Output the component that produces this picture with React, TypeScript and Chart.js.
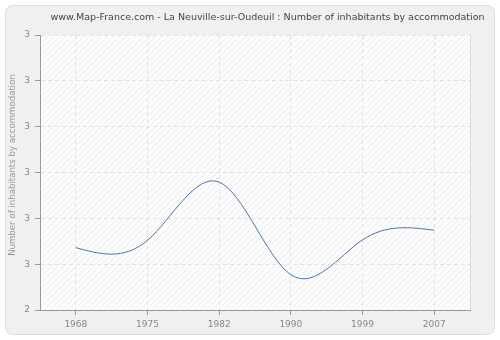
import React, { useEffect, useRef } from "react";
import { Chart, registerables } from "chart.js";

Chart.register(...registerables);

const years = ["1968", "1975", "1982", "1990", "1999", "2007"];
const inhabitantsPerAccommodation = [2.536, 2.552, 2.679, 2.477, 2.553, 2.574];
const yTickValues = [2.4, 2.5, 2.6, 2.7, 2.8, 2.9, 3.0];
const yTickLabels = ["2", "3", "3", "3", "3", "3", "3"];
const chartTitle =
  "www.Map-France.com - La Neuville-sur-Oudeuil : Number of inhabitants by accommodation";
const yAxisTitle = "Number of inhabitants by accommodation";

const FONT = "'DejaVu Sans', Verdana, sans-serif";

// natural cubic spline control points (same as d3 curveNatural)
function controlPoints(x: number[]): [number[], number[]] {
  const n = x.length - 1;
  const a = new Array(n);
  const b = new Array(n);
  const r = new Array(n);
  let m: number;
  a[0] = 0;
  b[0] = 2;
  r[0] = x[0] + 2 * x[1];
  for (let i = 1; i < n - 1; ++i) {
    a[i] = 1;
    b[i] = 4;
    r[i] = 4 * x[i] + 2 * x[i + 1];
  }
  a[n - 1] = 2;
  b[n - 1] = 7;
  r[n - 1] = 8 * x[n - 1] + x[n];
  for (let i = 1; i < n; ++i) {
    m = a[i] / b[i - 1];
    b[i] -= m;
    r[i] -= m * r[i - 1];
  }
  a[n - 1] = r[n - 1] / b[n - 1];
  for (let i = n - 2; i >= 0; --i) a[i] = (r[i] - a[i + 1]) / b[i];
  b[n - 1] = (x[n] + a[n - 1]) / 2;
  for (let i = 0; i < n - 1; ++i) b[i] = 2 * x[i + 1] - a[i + 1];
  return [a, b];
}

const naturalSplinePlugin = {
  id: "naturalSpline",
  beforeDatasetDraw(chart: any, args: any) {
    const meta = args.meta;
    const pts = meta.data as any[];
    const n = pts.length - 1;
    if (n < 2) return;
    const xs = pts.map((p) => p.x);
    const ys = pts.map((p) => p.y);
    const [ax, bx] = controlPoints(xs);
    const [ay, by] = controlPoints(ys);
    pts[0].cp1x = pts[0].x;
    pts[0].cp1y = pts[0].y;
    pts[n].cp2x = pts[n].x;
    pts[n].cp2y = pts[n].y;
    for (let i = 0; i < n; i++) {
      pts[i].cp2x = ax[i];
      pts[i].cp2y = ay[i];
      pts[i + 1].cp1x = bx[i];
      pts[i + 1].cp1y = by[i];
    }
    meta.dataset._pointsUpdated = true;
    meta.dataset._path = undefined;
  },
};

let hatchPattern: CanvasPattern | null = null;
function getHatch(ctx: CanvasRenderingContext2D) {
  if (hatchPattern) return hatchPattern;
  const c = document.createElement("canvas");
  c.width = 6;
  c.height = 6;
  const p = c.getContext("2d")!;
  p.fillStyle = "#fcfcfc";
  p.fillRect(0, 0, 6, 6);
  p.strokeStyle = "rgba(0,0,0,0.06)";
  p.lineWidth = 1;
  p.beginPath();
  p.moveTo(-1, 7);
  p.lineTo(7, -1);
  p.moveTo(-4, 4);
  p.lineTo(4, -4);
  p.moveTo(2, 10);
  p.lineTo(10, 2);
  p.stroke();
  hatchPattern = ctx.createPattern(c, "repeat");
  return hatchPattern;
}

const backgroundPlugin = {
  id: "panelBackground",
  beforeDraw(chart: any) {
    const { ctx, chartArea, width, height } = chart;
    ctx.save();
    ctx.fillStyle = "#ffffff";
    ctx.fillRect(0, 0, width, height);
    // rounded panel
    const x = 5.5, y = 5.5, w = 489, h = 329, r = 7;
    ctx.beginPath();
    ctx.moveTo(x + r, y);
    ctx.lineTo(x + w - r, y);
    ctx.arcTo(x + w, y, x + w, y + r, r);
    ctx.lineTo(x + w, y + h - r);
    ctx.arcTo(x + w, y + h, x + w - r, y + h, r);
    ctx.lineTo(x + r, y + h);
    ctx.arcTo(x, y + h, x, y + h - r, r);
    ctx.lineTo(x, y + r);
    ctx.arcTo(x, y, x + r, y, r);
    ctx.closePath();
    ctx.fillStyle = "#f0f0f0";
    ctx.fill();
    ctx.strokeStyle = "#dddddd";
    ctx.lineWidth = 1;
    ctx.stroke();
    // plot area
    const { left, top, right, bottom } = chartArea;
    ctx.fillStyle = getHatch(ctx) as any;
    ctx.fillRect(left, top, right - left, bottom - top);
    ctx.strokeStyle = "#dcdcdc";
    ctx.beginPath();
    ctx.moveTo(right + 0.5, top);
    ctx.lineTo(right + 0.5, bottom);
    ctx.stroke();
    // chart title
    ctx.fillStyle = "#444444";
    ctx.font = `9.5px ${FONT}`;
    ctx.textAlign = "center";
    ctx.textBaseline = "middle";
    ctx.fillText(chartTitle, 267.5, 17.5);
    // y axis title
    ctx.save();
    ctx.translate(13, 165);
    ctx.rotate(-Math.PI / 2);
    ctx.fillStyle = "#999999";
    ctx.font = `8.6px ${FONT}`;
    ctx.fillText(yAxisTitle, 0, 0);
    ctx.restore();
    ctx.restore();
  },
};

export default function App() {
  const canvasRef = useRef<HTMLCanvasElement | null>(null);

  useEffect(() => {
    if (!canvasRef.current) return;
    const chart = new Chart(canvasRef.current, {
      type: "line",
      data: {
        labels: years,
        datasets: [
          {
            data: inhabitantsPerAccommodation,
            borderColor: "#4a78aa",
            borderWidth: 1,
            pointRadius: 0,
            pointHoverRadius: 0,
            tension: 0.4,
            fill: false,
          },
        ],
      },
      options: {
        animation: false,
        responsive: false,
        devicePixelRatio: 1,
        events: [],
        layout: { padding: { left: 0, right: 30, top: 35, bottom: 0 } },
        plugins: {
          legend: { display: false },
          tooltip: { enabled: false },
          title: { display: false },
        },
        scales: {
          x: {
            type: "category",
            offset: true,
            afterFit: (s: any) => {
              s.height = 30;
            },
            grid: {
              display: true,
              color: "#e3e3e3",
              lineWidth: 1,
              drawTicks: true,
              tickLength: 5,
              tickColor: "#999999",
              tickBorderDash: [],
            },
            border: { display: true, color: "#999999", width: 1, dash: [4, 3] },
            ticks: {
              color: "#888888",
              font: { family: FONT, size: 9 },
              padding: 4,
              maxRotation: 0,
            },
          },
          y: {
            min: 2.4,
            max: 3.0,
            afterFit: (s: any) => {
              s.width = 40;
            },
            afterBuildTicks: (s: any) => {
              s.ticks = yTickValues.map((v) => ({ value: v }));
            },
            grid: {
              display: true,
              color: "#e3e3e3",
              lineWidth: 1,
              drawTicks: true,
              tickLength: 5,
              tickColor: "#999999",
              tickBorderDash: [],
            },
            border: { display: true, color: "#999999", width: 1, dash: [4, 3] },
            ticks: {
              color: "#888888",
              font: { family: FONT, size: 9 },
              padding: 5,
              callback: (_v: any, i: number) => yTickLabels[i],
            },
          },
        },
      },
      plugins: [backgroundPlugin, naturalSplinePlugin],
    });
    return () => chart.destroy();
  }, []);

  return (
    <div style={{ position: "absolute", left: 0, top: 0, width: 500, height: 340 }}>
      <canvas ref={canvasRef} width={500} height={340} style={{ display: "block" }} />
    </div>
  );
}
